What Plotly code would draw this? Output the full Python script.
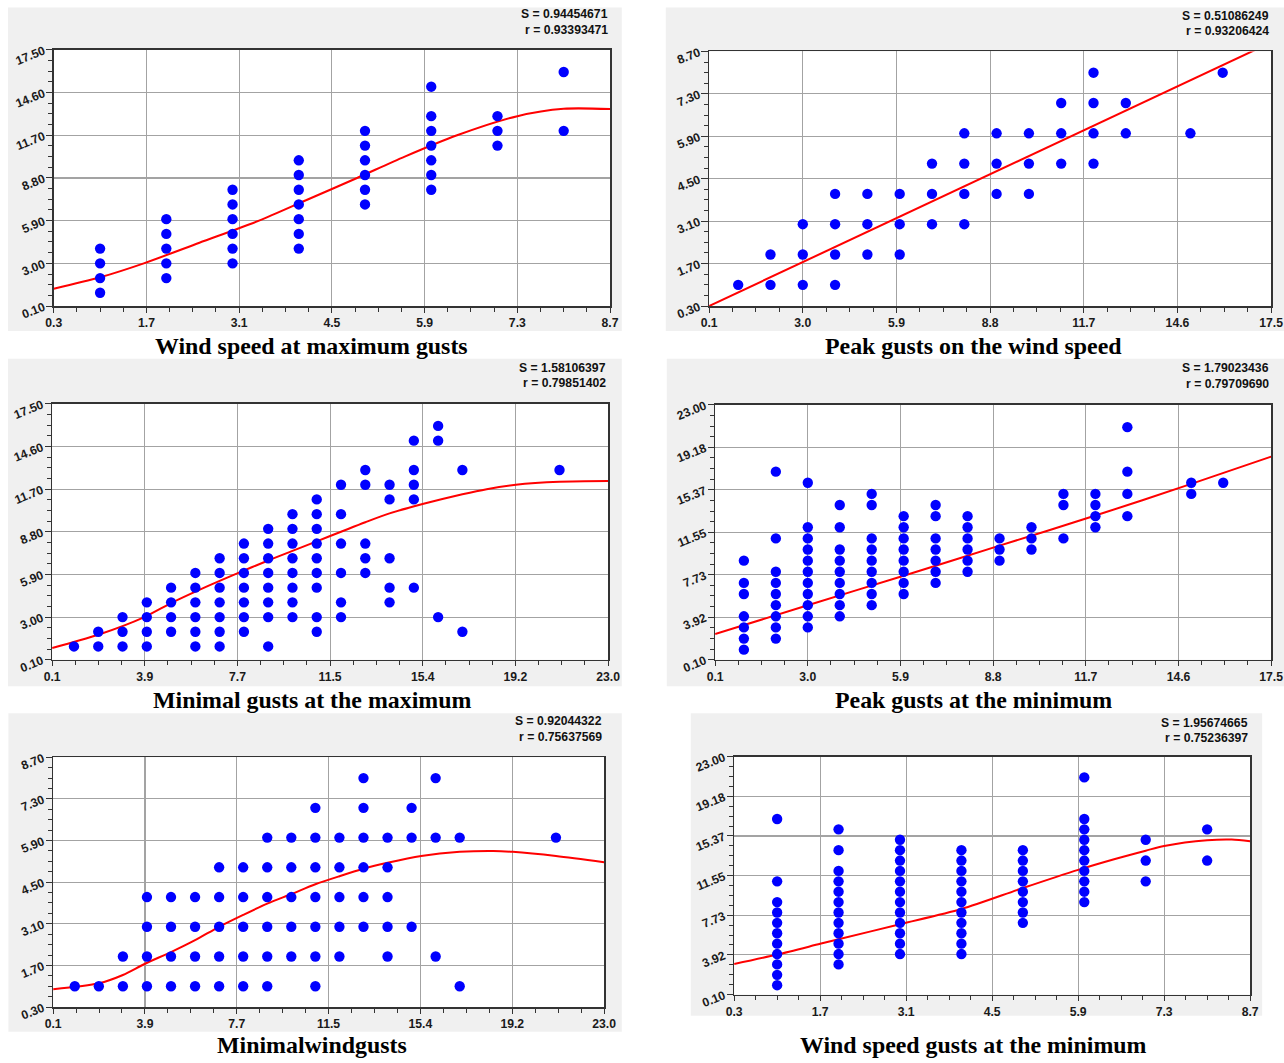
import plotly.graph_objects as go

W, H = 1284, 1063          # reference picture size
# observed mapping from page pixels to the photographed picture: pic = A + K * page
A, K = 7.6, 0.984
FW, FH = 1298, 1073        # page/figure size needed to cover the whole picture

# ------------------------------------------------------------------ data
# Panel 1: Wind speed at maximum gusts
p1_cols = [1, 2, 3, 4, 5, 6, 7, 8]
p1_vals = [[4, 3, 2, 1], [6, 5, 4, 3, 2], [8, 7, 6, 5, 4, 3], [10, 9, 8, 7, 6, 5, 4],
           [12, 11, 10, 9, 8, 7], [15, 13, 12, 11, 10, 9, 8], [13, 12, 11], [16, 12]]
p1_fit_x = [0.3, 1.0, 1.66, 2.5, 3.4, 4.1, 4.88, 5.6, 6.39, 7.3, 8.0, 8.7]
p1_fit_y = [1.27, 2.05, 3.0, 4.4, 5.9, 7.27, 8.8, 10.25, 11.7, 13.0, 13.5, 13.48]

# Panel 2: Peak gusts on the wind speed
p2_cols = [1, 2, 3, 4, 5, 6, 7, 8, 9, 10, 11, 12, 13, 15, 16]
p2_vals = [[1], [2, 1], [3, 2, 1], [4, 3, 2, 1], [4, 3, 2], [4, 3, 2], [5, 4, 3], [6, 5, 4, 3],
           [6, 5, 4], [6, 5, 4], [7, 6, 5], [8, 7, 6, 5], [7, 6], [6], [8]]
p2_fit_x = [0.1, 17.5]
p2_fit_y = [0.3, 9.0]

# Panel 3: Minimal gusts at the maximum
p3_cols = [1, 2, 3, 4, 5, 6, 7, 8, 9, 10, 11, 12, 13, 14, 15, 16, 17, 21]
p3_vals = [[1], [2, 1], [3, 2, 1], [4, 3, 2, 1], [5, 4, 3, 2], [6, 5, 4, 3, 2, 1],
           [7, 6, 5, 4, 3, 2, 1], [8, 7, 6, 5, 4, 3, 2], [9, 8, 7, 6, 5, 4, 3, 1],
           [10, 9, 8, 7, 6, 5, 4, 3], [11, 10, 9, 8, 7, 6, 5, 3, 2], [12, 10, 8, 6, 4, 3],
           [13, 12, 8, 7, 6], [12, 11, 7, 5, 4], [15, 13, 12, 11, 5], [16, 15, 3], [13, 2], [13]]
p3_fit_x = [0.1, 2.0, 3.9, 5.0, 6.3, 7.7, 9.0, 10.0, 11.0, 12.0, 13.0, 14.0, 15.4, 17.0, 18.0, 19.2, 21.0, 23.0]
p3_fit_y = [0.9, 1.8, 3.0, 3.95, 4.95, 5.95, 6.85, 7.5, 8.15, 8.8, 9.45, 10.05, 10.7, 11.35, 11.7, 12.0, 12.2, 12.25]

# Panel 4: Peak gusts at the minimum
p4_cols = [1, 2, 3, 4, 5, 6, 7, 8, 9, 10, 11, 12, 13, 15, 16]
p4_vals = [[9, 7, 6, 4, 3, 2, 1], [17, 11, 8, 7, 6, 5, 4, 3, 2], [16, 12, 11, 10, 9, 8, 7, 6, 5, 4, 3],
           [14, 12, 10, 9, 8, 7, 6, 5, 4], [15, 14, 11, 10, 9, 8, 7, 6, 5], [13, 12, 11, 10, 9, 8, 7, 6],
           [14, 13, 11, 10, 9, 8, 7], [13, 12, 11, 10, 9, 8], [11, 10, 9], [12, 11, 10],
           [15, 14, 11], [15, 14, 13, 12], [21, 17, 15, 13], [16, 15], [16]]
p4_fit_x = [0.1, 3.0, 6.0, 9.0, 12.0, 15.0, 17.5]
p4_fit_y = [2.4, 5.0, 7.65, 10.35, 13.05, 15.9, 18.35]

# Panel 5: Minimalwindgusts
p5_cols = [1, 2, 3, 4, 5, 6, 7, 8, 9, 10, 11, 12, 13, 14, 15, 16, 17, 21]
p5_vals = [[1], [1], [2, 1], [4, 3, 2, 1], [4, 3, 2, 1], [4, 3, 2, 1], [5, 4, 3, 2, 1], [5, 4, 3, 2, 1],
           [6, 5, 4, 3, 2, 1], [6, 5, 4, 3, 2], [7, 6, 5, 4, 3, 2, 1], [6, 5, 4, 3, 2],
           [8, 7, 6, 5, 4, 3], [6, 5, 4, 3, 2], [7, 6, 3], [8, 6, 2], [6, 1], [6]]
p5_fit_x = [0.1, 2.0, 3.0, 3.9, 5.0, 6.0, 7.0, 8.0, 9.0, 10.0, 11.0, 12.0, 13.0, 14.0, 15.4, 17.0, 18.4, 19.2, 21.0, 23.0]
p5_fit_y = [0.9, 1.1, 1.38, 1.75, 2.15, 2.55, 3.0, 3.4, 3.78, 4.1, 4.43, 4.7, 4.95, 5.15, 5.38, 5.52, 5.55, 5.52, 5.38, 5.17]

# Panel 6: Wind speed gusts at the minimum
p6_cols = [1, 2, 3, 4, 5, 6, 7, 8]
p6_vals = [[17, 11, 9, 8, 7, 6, 5, 4, 3, 2, 1], [16, 14, 12, 11, 10, 9, 8, 7, 6, 5, 4, 3],
           [15, 14, 13, 12, 11, 10, 9, 8, 7, 6, 5, 4], [14, 13, 12, 11, 10, 9, 8, 7, 6, 5, 4],
           [14, 13, 12, 11, 10, 9, 8, 7], [21, 17, 16, 15, 14, 13, 12, 11, 10, 9], [15, 13, 11], [16, 13]]
p6_fit_x = [0.3, 1.0, 1.7, 2.0, 3.0, 4.0, 5.0, 5.9, 6.5, 7.0, 7.3, 8.0, 8.4, 8.7]
p6_fit_y = [3.04, 3.95, 4.98, 5.42, 6.87, 8.33, 10.35, 12.1, 13.15, 13.95, 14.4, 14.95, 15.02, 14.85]

# tick labels
x_labels_a = ["0.3", "1.7", "3.1", "4.5", "5.9", "7.3", "8.7"]
x_labels_b = ["0.1", "3.0", "5.9", "8.8", "11.7", "14.6", "17.5"]
x_labels_c = ["0.1", "3.9", "7.7", "11.5", "15.4", "19.2", "23.0"]
y_labels_a = ["0.10", "3.00", "5.90", "8.80", "11.70", "14.60", "17.50"]
y_labels_b = ["0.30", "1.70", "3.10", "4.50", "5.90", "7.30", "8.70"]
y_labels_c = ["0.10", "3.92", "7.73", "11.55", "15.37", "19.18", "23.00"]

titles = ["Wind speed at maximum gusts", "Peak gusts on the wind speed",
          "Minimal gusts at the maximum", "Peak gusts at the minimum",
          "Minimalwindgusts", "Wind speed gusts at the minimum"]
s_values = ["0.94454671", "0.51086249", "1.58106397", "1.79023436", "0.92044322", "1.95674665"]
r_values = ["0.93393471", "0.93206424", "0.79851402", "0.79709690", "0.75637569", "0.75236397"]

# ------------------------------------------------------------------ layout geometry (picture pixels)
panels = [
    dict(cols=p1_cols, vals=p1_vals, fx=p1_fit_x, fy=p1_fit_y, xr=(0.3, 8.7), xl=x_labels_a,
         yr=(0.1, 17.5), yl=y_labels_a, box=(53.3, 609.3, 51.7, 309.0), bg=(6, 621, 9, 334),
         sy=(16, 32), tx=311, ty=349, spline=True),
    dict(cols=p2_cols, vals=p2_vals, fx=p2_fit_x, fy=p2_fit_y, xr=(0.1, 17.5), xl=x_labels_b,
         yr=(0.3, 8.7), yl=y_labels_b, box=(708.3, 1270.0, 53.3, 309.0), bg=(665, 1290, 9, 334),
         sy=(17.5, 33), tx=973, ty=349, spline=False),
    dict(cols=p3_cols, vals=p3_vals, fx=p3_fit_x, fy=p3_fit_y, xr=(0.1, 23.0), xl=x_labels_c,
         yr=(0.1, 17.5), yl=y_labels_a, box=(51.7, 607.3, 407.3, 664.3), bg=(6, 621, 362, 691),
         sy=(371, 386.7), tx=311, ty=705, spline=True),
    dict(cols=p4_cols, vals=p4_vals, fx=p4_fit_x, fy=p4_fit_y, xr=(0.1, 17.5), xl=x_labels_b,
         yr=(0.1, 23.0), yl=y_labels_c, box=(714.3, 1270.0, 408.3, 664.3), bg=(666, 1290, 362, 691),
         sy=(371.5, 387.5), tx=973, ty=705, spline=True),
    dict(cols=p5_cols, vals=p5_vals, fx=p5_fit_x, fy=p5_fit_y, xr=(0.1, 23.0), xl=x_labels_c,
         yr=(0.3, 8.7), yl=y_labels_b, box=(52.7, 603.3, 762.3, 1013.3), bg=(8, 621, 718, 1038),
         sy=(726, 741.7), tx=311, ty=1051, spline=True),
    dict(cols=p6_cols, vals=p6_vals, fx=p6_fit_x, fy=p6_fit_y, xr=(0.3, 8.7), xl=x_labels_a,
         yr=(0.1, 23.0), yl=y_labels_c, box=(733.3, 1249.0, 761.7, 1000.7), bg=(690, 1261, 718, 1022),
         sy=(728, 743), tx=973, ty=1051, spline=True),
]


def clamp(v):
    return min(1.0, max(0.0, v))


def px(x):
    return clamp(((x - A) / K) / FW)


def py(y):
    return clamp(1 - ((y - A) / K) / FH)


def sz(v):
    return v / K


def major(lo, hi):
    return [lo + k * (hi - lo) / 6 for k in range(7)]


def minor(lo, hi, n):
    step = (hi - lo) / 6 / n
    return [lo + i * step for i in range(6 * n + 1) if i % n != 0]


fig = go.Figure()
shapes = []
annotations = []
tick_font = dict(family="Arial, Liberation Sans, sans-serif", size=sz(12), color="#1a1a1a", weight="bold")
ann_font = dict(family="Arial, Liberation Sans, sans-serif", size=sz(12), color="#111111", weight="bold")
title_font = dict(family="Liberation Serif, Times New Roman, serif", size=sz(23.5), color="#000000", weight="bold")

for i, p in enumerate(panels):
    n = i + 1
    xname = "x" if n == 1 else f"x{n}"
    yname = "y" if n == 1 else f"y{n}"
    xs, ys = [], []
    for c, vs in zip(p["cols"], p["vals"]):
        xs += [c] * len(vs)
        ys += vs
    fig.add_trace(go.Scatter(x=p["fx"], y=p["fy"], mode="lines",
                             line=dict(color="#ff0000", width=sz(2),
                                       shape="spline" if p["spline"] else "linear", smoothing=0.8),
                             xaxis=xname, yaxis=yname, showlegend=False, hoverinfo="skip"))
    fig.add_trace(go.Scatter(x=xs, y=ys, mode="markers",
                             marker=dict(color="#0000ff", size=sz(10.2), line=dict(width=0)),
                             xaxis=xname, yaxis=yname, showlegend=False))

    l, r, t, b = p["box"]
    common = dict(showline=True, linecolor="#333333", linewidth=sz(1.5), mirror=True,
                  showgrid=True, gridcolor="#a3a3a3", gridwidth=sz(1.1), zeroline=False,
                  ticks="outside", tickcolor="#333333", tickwidth=1, tickfont=tick_font,
                  tickmode="array", fixedrange=True)
    xa = dict(common, domain=[px(l), px(r)], range=list(p["xr"]), anchor=yname,
              tickvals=major(*p["xr"]), ticktext=p["xl"], ticklen=sz(5), tickangle=0,
              minor=dict(tickmode="array", tickvals=minor(*p["xr"], 4), ticks="outside",
                         ticklen=sz(4), tickcolor="#333333", showgrid=False))
    ya = dict(common, domain=[py(b), py(t)], range=list(p["yr"]), anchor=xname,
              tickvals=major(*p["yr"]), ticktext=p["yl"], ticklen=sz(6), tickangle=-22,
              minor=dict(tickmode="array", tickvals=minor(*p["yr"], 4), ticks="outside",
                         ticklen=sz(4), tickcolor="#333333", showgrid=False))
    fig.update_layout(**{("xaxis" if n == 1 else f"xaxis{n}"): xa,
                         ("yaxis" if n == 1 else f"yaxis{n}"): ya})

    bl, br, bt, bb = p["bg"]
    shapes.append(dict(type="rect", xref="paper", yref="paper", x0=px(bl), x1=px(br),
                       y0=py(bb), y1=py(bt), fillcolor="#f0f0f0", line=dict(width=0), layer="below"))
    shapes.append(dict(type="rect", xref="paper", yref="paper", x0=px(l), x1=px(r),
                       y0=py(b), y1=py(t), fillcolor="#ffffff", line=dict(width=0), layer="below"))

    annotations.append(dict(xref="paper", yref="paper", x=px(r), y=py(p["sy"][0]),
                            xanchor="right", yanchor="middle", showarrow=False,
                            text="S = " + s_values[i], font=ann_font))
    annotations.append(dict(xref="paper", yref="paper", x=px(r), y=py(p["sy"][1]),
                            xanchor="right", yanchor="middle", showarrow=False,
                            text="r = " + r_values[i], font=ann_font))
    annotations.append(dict(xref="paper", yref="paper", x=px(p["tx"]), y=py(p["ty"]),
                            xanchor="center", yanchor="middle", showarrow=False,
                            text=titles[i], font=title_font))

fig.update_layout(width=FW, height=FH, margin=dict(l=0, r=0, t=0, b=0),
                  paper_bgcolor="#ffffff", plot_bgcolor="#ffffff",
                  shapes=shapes, annotations=annotations, hovermode=False)

fig.write_html("out.html", config={"displayModeBar": False, "staticPlot": True},
               post_script="document.body.style.margin='0';")
